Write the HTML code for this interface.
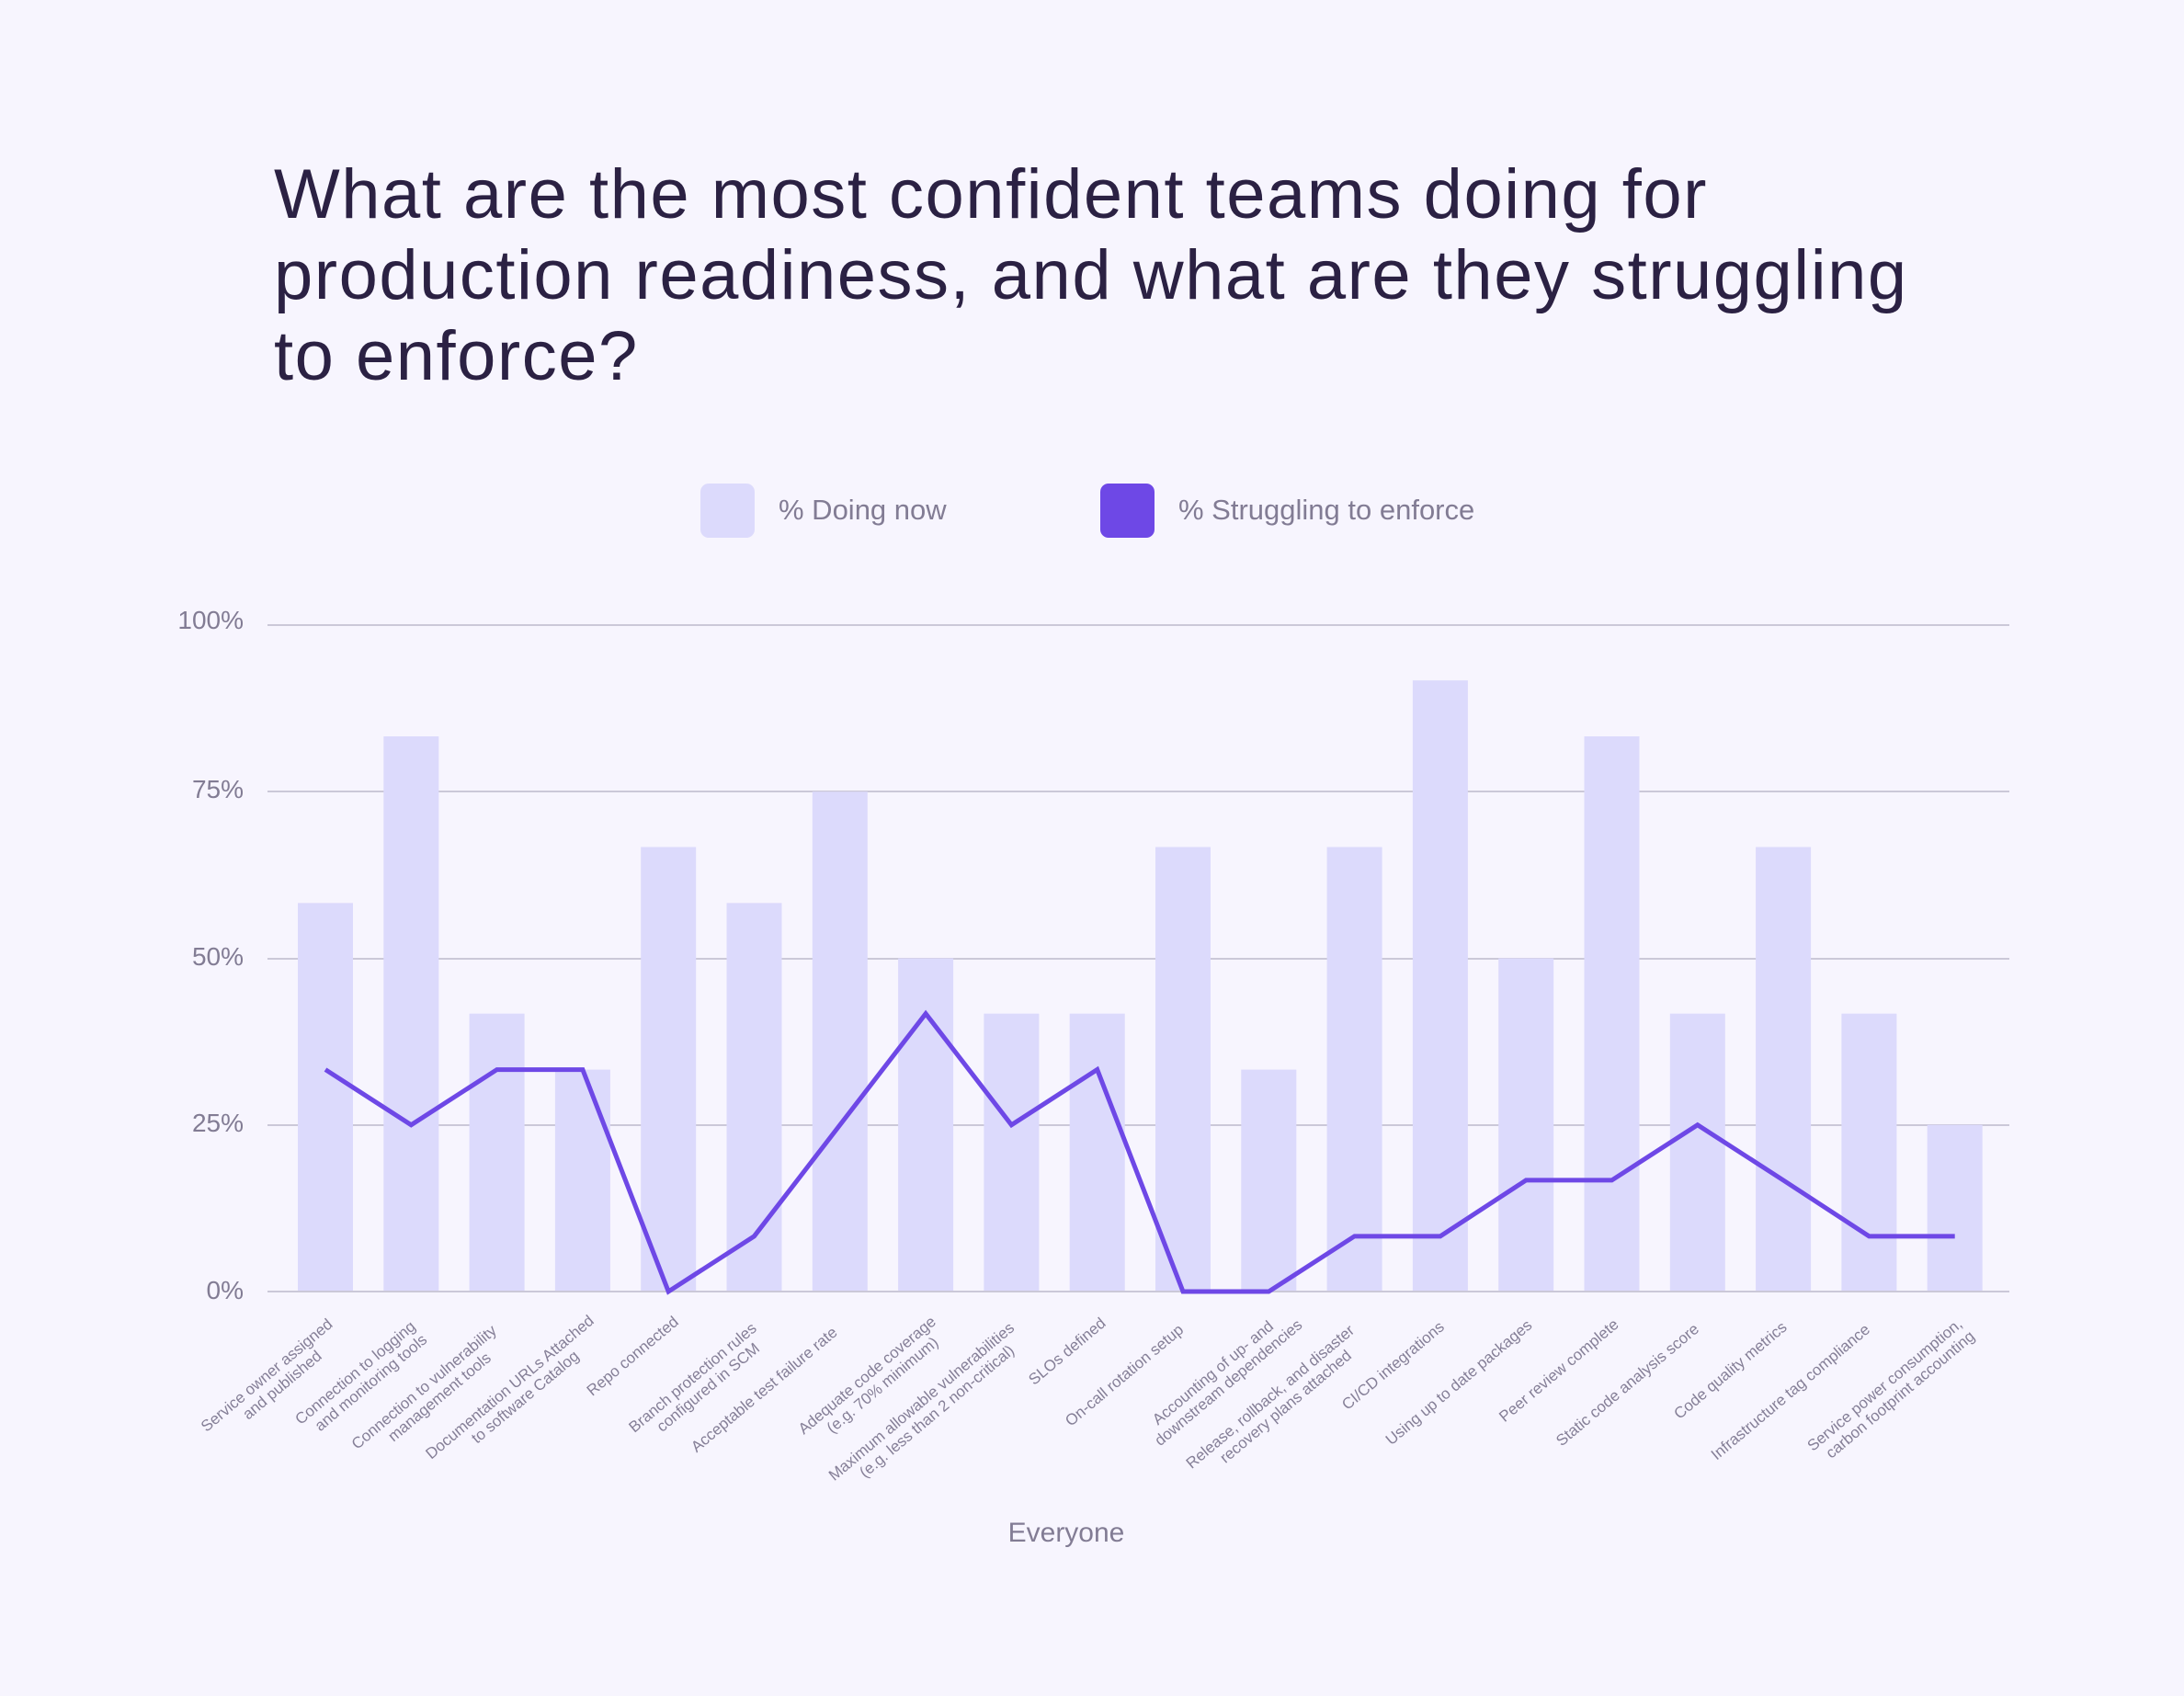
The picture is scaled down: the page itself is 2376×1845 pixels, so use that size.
<!DOCTYPE html>
<html><head><meta charset="utf-8"><style>
html,body{margin:0;padding:0;background:#f7f5fe;}
svg{display:block}
</style></head><body>
<svg width="2376" height="1845" viewBox="0 0 2376 1845" xmlns="http://www.w3.org/2000/svg" font-family="Liberation Sans, sans-serif">
<rect width="2376" height="1845" fill="#f7f5fe"/>
<g fill="#2b2143" font-size="76" font-weight="500" letter-spacing="1.5">
<text x="298" y="237">What are the most confident teams doing for</text>
<text x="298" y="325">production readiness, and what are they struggling</text>
<text x="298" y="413">to enforce?</text>
</g>
<rect x="762" y="526" width="59" height="59" rx="9" fill="#dcdafc"/>
<text x="847" y="565" font-size="31" fill="#827c94">% Doing now</text>
<rect x="1197" y="526" width="59" height="59" rx="9" fill="#6e48e6"/>
<text x="1282" y="565" font-size="31" fill="#827c94">% Struggling to enforce</text>
<g stroke="#cbc8d8" stroke-width="2">
<line x1="291" x2="2186" y1="680" y2="680"/>
<line x1="291" x2="2186" y1="861" y2="861"/>
<line x1="291" x2="2186" y1="1043" y2="1043"/>
<line x1="291" x2="2186" y1="1224" y2="1224"/>
</g>
<g font-size="28" fill="#827c94" text-anchor="end">
<text x="265" y="684">100%</text>
<text x="265" y="868">75%</text>
<text x="265" y="1050">50%</text>
<text x="265" y="1231">25%</text>
<text x="265" y="1413">0%</text>
</g>
<g id="bars" fill="#dcdafc"></g>
<line x1="291" x2="2186" y1="1405" y2="1405" stroke="#cbc8d8" stroke-width="2"/>
<polyline id="ln" fill="none" stroke="#6e48e6" stroke-width="5" stroke-linejoin="miter"/>
<g id="labels" font-size="17" fill="#857f97"></g>
<text x="1160" y="1677" font-size="30" fill="#827c94" text-anchor="middle">Everyone</text>
</svg>
<script>
var d=[58.3,83.3,41.7,33.3,66.7,58.3,75,50,41.7,41.7,66.7,33.3,66.7,91.7,50,83.3,41.7,66.7,41.7,25];
var s=[33.3,25,33.3,33.3,0,8.3,25,41.7,25,33.3,0,0,8.3,8.3,16.7,16.7,25,16.7,8.3,8.3];
var L=[["Service owner assigned","and published"],["Connection to logging","and monitoring tools"],["Connection to vulnerability","management tools"],["Documentation URLs Attached","to software Catalog"],["Repo connected"],["Branch protection rules","configured in SCM"],["Acceptable test failure rate"],["Adequate code coverage","(e.g. 70% minimum)"],["Maximum allowable vulnerabilities","(e.g. less than 2 non-critical)"],["SLOs defined"],["On-call rotation setup"],["Accounting of up- and","downstream dependencies"],["Release, rollback, and disaster","recovery plans attached"],["CI/CD integrations"],["Using up to date packages"],["Peer review complete"],["Static code analysis score"],["Code quality metrics"],["Infrastructure tag compliance"],["Service power consumption,","carbon footprint accounting"]];
var ns="http://www.w3.org/2000/svg",b=document.getElementById("bars"),lb=document.getElementById("labels"),pts=[];
function y(v){return 1405-v*7.25;}
for(var i=0;i<20;i++){var cx=354+i*93.3;
var r=document.createElementNS(ns,"rect");r.setAttribute("x",cx-30);r.setAttribute("width",60);r.setAttribute("y",y(d[i]));r.setAttribute("height",1405-y(d[i]));b.appendChild(r);
pts.push(cx+","+y(s[i]));
var g=document.createElementNS(ns,"g");g.setAttribute("transform","translate("+(cx+8)+",1443) rotate(-40)");
var l=L[i],w0=l[0].length*8.1;
for(var j=0;j<l.length;j++){var t=document.createElementNS(ns,"text");t.setAttribute("text-anchor","middle");
t.setAttribute("x",-w0/2+(j==1?6:0));t.setAttribute("y",j*19);t.textContent=l[j];g.appendChild(t);}
lb.appendChild(g);}
document.getElementById("ln").setAttribute("points",pts.join(" "));
</script>
</body></html>
